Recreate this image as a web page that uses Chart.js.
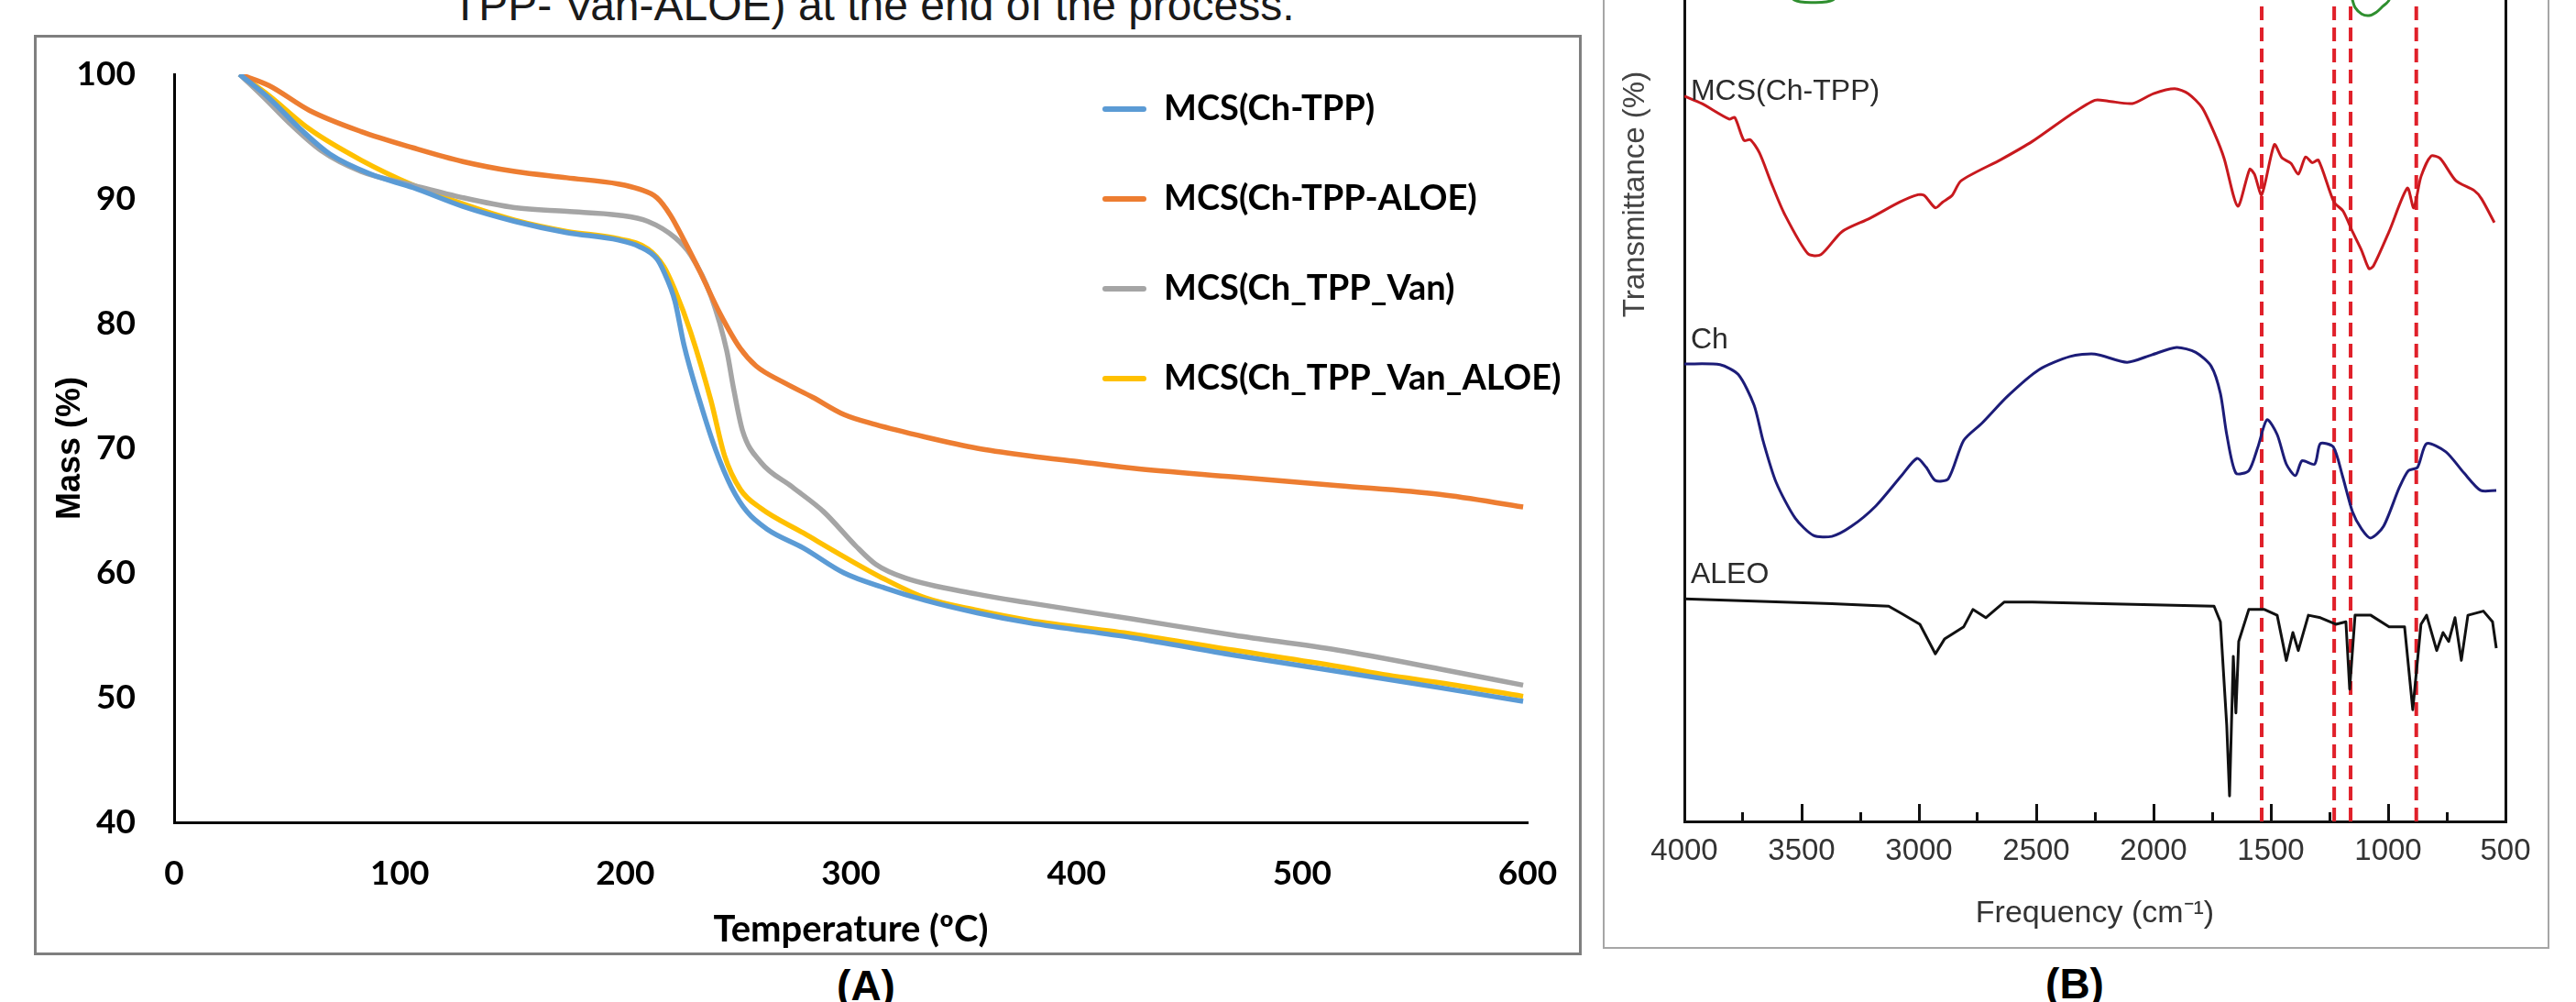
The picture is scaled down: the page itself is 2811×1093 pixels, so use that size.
<!DOCTYPE html>
<html><head><meta charset="utf-8">
<script src="https://cdn.jsdelivr.net/npm/chart.js@4.4.1/dist/chart.umd.min.js"></script>
<style>
html,body{margin:0;padding:0;background:#fff;}
body{width:2811px;height:1093px;overflow:hidden;position:relative;}
.abs{position:absolute;}
#boxA{left:37px;top:38px;width:1689px;height:1004px;border:3px solid #7f7f7f;box-sizing:border-box;}
#boxB{left:1749px;top:-20px;width:1033px;height:1055px;border:2px solid #a6a6a6;box-sizing:border-box;}
#cap{left:493px;top:-18px;font:48px 'Liberation Sans',Arial,sans-serif;line-height:1;color:#1a1a1a;white-space:nowrap;}
.lab{font:bold 46px 'Liberation Sans',Arial,sans-serif;line-height:1;white-space:nowrap;transform:translateX(-50%);color:#000;}
#labA{left:945px;top:1052px;}
#labB{left:2264px;top:1050px;}
#cA{left:40px;top:41px;}
#cB{left:1751px;top:-480px;}
</style></head>
<body>
<div id="cap" class="abs">TPP- Van-ALOE) at the end of the process.</div>
<div id="boxA" class="abs"></div>
<div id="boxB" class="abs"></div>
<canvas id="cA" class="abs" width="1683" height="999"></canvas>
<canvas id="cB" class="abs" width="1029" height="1513"></canvas>
<div id="labA" class="abs lab">(A)</div>
<div id="labB" class="abs lab">(B)</div>
<script>
// ================= Panel A : TGA =================
const tgaLabels = ['MCS(Ch-TPP)', 'MCS(Ch-TPP-ALOE)', 'MCS(Ch_TPP_Van)', 'MCS(Ch_TPP_Van_ALOE)'];
const tempTicks = [0, 100, 200, 300, 400, 500, 600];
const massTicks = [40, 50, 60, 70, 80, 90, 100];

const tempChTPP = [29, 42, 56, 69, 87, 106, 128, 151, 174, 197, 206, 214, 217, 222, 226, 233, 240, 247, 254, 263, 279, 297, 315, 333, 356, 379, 425, 470, 516, 561, 598];
const massChTPP = [100, 98.1, 95.6, 93.6, 92.0, 90.9, 89.4, 88.2, 87.3, 86.7, 86.2, 85.2, 84.2, 81.8, 78.3, 73.8, 69.9, 66.9, 64.9, 63.5, 62.0, 60.0, 58.8, 57.8, 56.8, 56.0, 54.8, 53.4, 52.1, 50.8, 49.7];

const tempChTPPAloe = [29, 42, 60, 83, 106, 128, 151, 174, 197, 206, 214, 220, 226, 233, 242, 251, 258, 270, 283, 297, 311, 333, 356, 379, 402, 425, 470, 516, 561, 598];
const massChTPPAloe = [100, 99.1, 97.1, 95.4, 94.1, 93.0, 92.2, 91.7, 91.2, 90.8, 90.1, 88.7, 86.7, 84.2, 80.8, 78.0, 76.6, 75.3, 74.1, 72.7, 71.9, 70.9, 70.0, 69.4, 68.9, 68.4, 67.7, 67.0, 66.3, 65.3];

const tempChTPPVan = [29, 40, 51, 65, 83, 106, 128, 151, 174, 197, 210, 222, 229, 238, 245, 248, 252, 260, 274, 288, 302, 311, 324, 356, 379, 425, 470, 516, 561, 598];
const massChTPPVan = [100, 98.1, 96.1, 93.9, 92.2, 91.1, 90.1, 89.3, 89.0, 88.7, 88.2, 86.9, 85.5, 82.2, 77.8, 74.8, 71.4, 68.9, 66.9, 64.9, 62.2, 60.7, 59.6, 58.3, 57.6, 56.3, 55.0, 53.8, 52.3, 51.0];

const tempChTPPVanAloe = [29, 42, 60, 83, 106, 128, 151, 174, 197, 210, 217, 222, 229, 238, 244, 251, 260, 279, 297, 315, 333, 356, 379, 425, 470, 516, 538, 561, 598];
const massChTPPVanAloe = [100, 98.3, 95.6, 93.1, 91.1, 89.6, 88.3, 87.4, 86.8, 86.0, 84.6, 82.7, 79.3, 73.8, 69.4, 66.7, 65.2, 63.2, 61.3, 59.5, 58.0, 57.0, 56.2, 55.1, 53.8, 52.5, 51.8, 51.2, 50.1];

// ================= Panel B : FTIR =================
const freqTicks = [4000, 3500, 3000, 2500, 2000, 1500, 1000, 500];
const spectrumNames = ['MCS(Ch-TPP)', 'Ch', 'ALEO'];

const wnMCS = [4000, 3926, 3809, 3785, 3746, 3719, 3680, 3629, 3574, 3473, 3418, 3328, 3211, 3082, 3004, 2977, 2930, 2899, 2859, 2820, 2649, 2516, 2356, 2250, 2195, 2090, 2000, 1910, 1852, 1793, 1738, 1699, 1641, 1590, 1570, 1539, 1485, 1453, 1414, 1383, 1352, 1324, 1297, 1231, 1192, 1152, 1113, 1082, 1063, 996, 918, 891, 860, 817, 778, 711, 633, 602, 547];
const trMCS = [88.3, 87.4, 85.5, 85.7, 82.9, 83.0, 81.4, 77.7, 74.0, 69.1, 69.0, 71.8, 73.4, 75.4, 76.3, 76.2, 74.7, 75.4, 76.2, 78.0, 80.6, 82.8, 86.0, 87.8, 87.7, 87.4, 88.6, 89.2, 88.6, 86.9, 83.6, 80.7, 74.9, 79.4, 78.8, 76.3, 82.4, 80.8, 80.1, 78.8, 80.9, 80.2, 80.5, 75.4, 74.3, 71.8, 69.5, 67.3, 67.6, 71.8, 77.1, 74.7, 78.5, 81.0, 80.7, 78.0, 76.8, 75.8, 72.9];

const wnCh = [4000, 3848, 3770, 3703, 3664, 3609, 3527, 3449, 3371, 3289, 3184, 3074, 3008, 2969, 2930, 2875, 2809, 2731, 2621, 2488, 2356, 2250, 2113, 2008, 1902, 1820, 1754, 1715, 1688, 1649, 1594, 1555, 1516, 1473, 1434, 1395, 1367, 1313, 1289, 1234, 1195, 1152, 1113, 1074, 1020, 953, 914, 875, 836, 754, 676, 606, 539];
const trCh = [55.7, 55.6, 54.4, 50.7, 46.3, 41.3, 36.9, 34.8, 34.7, 35.9, 38.4, 42.1, 44.2, 43.1, 41.5, 41.7, 46.4, 48.5, 51.8, 55.0, 56.6, 56.9, 55.9, 56.8, 57.7, 57.1, 55.4, 52.1, 47.1, 42.4, 42.7, 45.6, 48.9, 47.1, 43.5, 42.1, 43.9, 43.5, 46.0, 45.6, 42.1, 37.7, 35.6, 34.5, 35.9, 40.6, 42.7, 43.1, 46.0, 45.0, 42.4, 40.3, 40.3];

const wnALEO = [4000, 3371, 3129, 3074, 2996, 2930, 2891, 2809, 2770, 2715, 2637, 2516, 1742, 1715, 1688, 1676, 1660, 1649, 1637, 1594, 1527, 1473, 1434, 1406, 1383, 1340, 1289, 1223, 1180, 1164, 1141, 1074, 996, 930, 895, 860, 836, 793, 766, 742, 715, 688, 660, 594, 555, 539];
const trALEO = [27.1, 26.5, 26.2, 25.3, 24.0, 20.4, 22.2, 23.7, 25.8, 24.8, 26.7, 26.7, 26.2, 24.3, 11.7, 3.1, 20.1, 13.2, 21.9, 25.8, 25.8, 25.1, 19.6, 23.0, 20.8, 25.1, 24.8, 24.0, 24.3, 16.1, 25.1, 25.1, 23.7, 23.7, 13.6, 24.0, 25.1, 20.8, 23.0, 21.9, 24.8, 19.6, 25.1, 25.6, 24.3, 21.1];

// top spectrum (mostly outside the visible frame)
const wnTopA = [3580, 3531, 3453, 3367, 3320];
const trTopA = [102, 100, 99.7, 100, 102];
const wnTopB = [1180, 1152, 1141, 1113, 1082, 1051, 1024, 996, 970];
const trTopB = [103, 100, 99.1, 98.3, 98.1, 98.5, 99.2, 100, 103];

const markerWn = [1539, 1230, 1160, 880];

// label anchors (wavenumber, transmittance)
const nameWn = [3973, 3973, 3973];
const nameTr = [87.8, 57.6, 29.0];

const zip = (xs, ys) => xs.map((x, i) => ({x: x, y: ys[i]}));

// fix an axis box size and drop the label-overflow padding so the plot frame lands where wanted
const fixFit = (w, h) => s => {
  if (w !== null) s.width = w;
  if (h !== null) s.height = h;
  s.paddingTop = 0; s.paddingBottom = 0; s.paddingLeft = 0; s.paddingRight = 0;
};

// ---------- Chart A ----------
const legendPlacer = {
  id: 'legendPlacer',
  afterLayout(chart) {
    const l = chart.legend; if (!l) return;
    const dx = 1103 - l.left, dy = -1 - l.top;
    l.left += dx; l.right += dx; l.top += dy; l.bottom += dy;
  }
};

const tgaColors = ['#5B9BD5', '#ED7D31', '#A5A5A5', '#FFC000'];
const tgaSets = [[tempChTPP, massChTPP], [tempChTPPAloe, massChTPPAloe], [tempChTPPVan, massChTPPVan], [tempChTPPVanAloe, massChTPPVanAloe]];

new Chart(document.getElementById('cA'), {
  type: 'line',
  data: {
    datasets: tgaSets.map((s, i) => ({
      label: tgaLabels[i], data: zip(s[0], s[1]),
      borderColor: tgaColors[i], backgroundColor: tgaColors[i],
      borderWidth: 5.5, pointRadius: 0, cubicInterpolationMode: 'monotone', fill: false
    }))
  },
  options: {
    responsive: false, animation: false, events: [],
    layout: {padding: {top: 40, right: 56, bottom: 0, left: 0}},
    scales: {
      x: {
        type: 'linear', min: tempTicks[0], max: tempTicks[tempTicks.length - 1],
        afterFit: fixFit(null, 143),
        grid: {display: false, drawTicks: false},
        border: {display: true, color: '#000', width: 3},
        ticks: {stepSize: 100, padding: 34, color: '#000', maxRotation: 0, autoSkip: false,
          font: {family: 'Lato', weight: 'bold', size: 37}},
        title: {display: true, text: 'Temperature (ºC)', color: '#000',
          font: {family: 'Lato', weight: 'bold', size: 40}, padding: {top: 0, bottom: 2}}
      },
      y: {
        min: massTicks[0], max: massTicks[massTicks.length - 1],
        afterFit: fixFit(150, null),
        grid: {display: false, drawTicks: false},
        border: {display: true, color: '#000', width: 3},
        ticks: {stepSize: 10, padding: 42, color: '#000',
          font: {family: 'Lato', weight: 'bold', size: 37}},
        title: {display: true, text: 'Mass (%)', color: '#000',
          font: {family: 'Liberation Sans', weight: 'bold', size: 36}, padding: {top: 15, bottom: 0}}
      }
    },
    plugins: {
      tooltip: {enabled: false},
      legend: {
        position: 'chartArea', align: 'start',
        labels: {
          font: {family: 'Lato', weight: 'bold', size: 38}, color: '#000',
          boxWidth: 48, boxHeight: 6, padding: 60, useBorderRadius: true, borderRadius: 3,
          generateLabels: (chart) => Chart.defaults.plugins.legend.labels.generateLabels(chart)
            .map(it => Object.assign({}, it, {fillStyle: it.strokeStyle, lineWidth: 0}))
        }
      }
    }
  },
  plugins: [legendPlacer]
});

// ---------- Chart B ----------
const specLabels = {
  id: 'specLabels',
  afterDatasetsDraw(chart) {
    const {ctx, scales} = chart;
    ctx.save();
    ctx.font = '32px "Liberation Sans", Arial, sans-serif';
    ctx.fillStyle = '#2b2b2b';
    ctx.textAlign = 'left';
    ctx.textBaseline = 'alphabetic';
    spectrumNames.forEach((t, i) => {
      ctx.fillText(t, scales.x.getPixelForValue(nameWn[i]), scales.y.getPixelForValue(nameTr[i]));
    });
    ctx.restore();
  }
};

const specLine = (data, color, tension) => ({data: data, borderColor: color, backgroundColor: color,
  borderWidth: 3, pointRadius: 0, tension: tension, fill: false, borderJoinStyle: 'round'});

const dsB = [
  specLine(zip(wnTopA, trTopA), '#2f8f2f', 0.3),
  specLine(zip(wnTopB, trTopB), '#2f8f2f', 0.3),
  specLine(zip(wnMCS, trMCS), '#c8191e', 0.25),
  specLine(zip(wnCh, trCh), '#1c1c78', 0.25),
  specLine(zip(wnALEO, trALEO), '#111111', 0)
];
markerWn.forEach(w => dsB.push({data: [{x: w, y: 0}, {x: w, y: 100}], borderColor: '#e0202a',
  borderWidth: 4, borderDash: [15, 8], pointRadius: 0, fill: false}));

new Chart(document.getElementById('cB'), {
  type: 'line',
  data: {datasets: dsB},
  options: {
    responsive: false, animation: false, events: [],
    layout: {padding: {top: 8, right: 0, bottom: 0, left: 0}},
    scales: {
      x: {
        type: 'linear', min: 500, max: 4000, reverse: true,
        afterFit: fixFit(null, 137),
        grid: {display: true, drawOnChartArea: false, drawTicks: true, tickLength: -19, tickWidth: 3, tickColor: '#111',
          tickBorderDash: (c) => (c.tick && c.tick.value % 500 !== 0) ? [12, 100] : []},
        border: {display: true, color: '#111', width: 3},
        ticks: {stepSize: 250, padding: 32, color: '#333', maxRotation: 0, autoSkip: false,
          font: {family: 'Liberation Sans', size: 33},
          callback: v => freqTicks.includes(v) ? String(v) : ''},
        title: {display: true, text: 'Frequency (cm⁻¹)', color: '#333',
          font: {family: 'Liberation Sans', size: 34}, padding: {top: 0, bottom: 16}}
      },
      y: {
        min: 0, max: 152.68,
        afterFit: fixFit(87, null),
        grid: {display: false, drawTicks: false},
        border: {display: true, color: '#111', width: 3},
        ticks: {display: false},
        title: {display: true, text: 'Transmittance (%)', color: '#444',
          font: {family: 'Liberation Sans', size: 33}, padding: {top: 14, bottom: 0}}
      },
      y2: {
        position: 'right', min: 0, max: 152.68,
        afterFit: fixFit(46, null),
        grid: {display: false, drawTicks: false},
        border: {display: true, color: '#111', width: 3},
        ticks: {display: false}
      }
    },
    plugins: {legend: {display: false}, tooltip: {enabled: false}}
  },
  plugins: [specLabels]
});
</script>
</body></html>
